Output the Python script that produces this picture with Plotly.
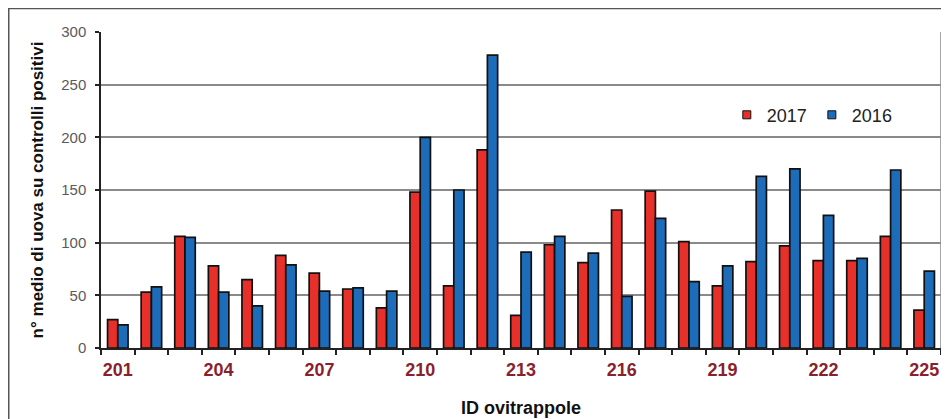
import plotly.graph_objects as go

ids = list(range(201, 226))
vals_2017 = [27, 53, 106, 78, 65, 88, 71, 56, 38, 148, 59, 188, 31, 98, 81,
             131, 149, 101, 59, 82, 97, 83, 83, 106, 36]
vals_2016 = [22, 58, 105, 53, 40, 79, 54, 57, 54, 200, 150, 278, 91, 106, 90,
             49, 123, 63, 78, 163, 170, 126, 85, 169, 73]
x_tick_vals = [201, 204, 207, 210, 213, 216, 219, 222, 225]
x_tick_text = [str(v) for v in x_tick_vals]
y_tick_vals = [0, 50, 100, 150, 200, 250, 300]

RED = "#E8302A"
BLUE = "#1C6CBA"

fig = go.Figure()
fig.add_trace(go.Bar(x=ids, y=vals_2017, name="2017", marker=dict(color=RED, line=dict(color="#111", width=1.7)), showlegend=False))
fig.add_trace(go.Bar(x=ids, y=vals_2016, name="2016", marker=dict(color=BLUE, line=dict(color="#111", width=1.7)), showlegend=False))
# legend entries
fig.add_trace(go.Scatter(x=[None], y=[None], mode="markers", name="2017",
                         marker=dict(symbol="square", size=8, color=RED, line=dict(color="#111", width=1))))
fig.add_trace(go.Scatter(x=[None], y=[None], mode="markers", name="2016",
                         marker=dict(symbol="square", size=8, color=BLUE, line=dict(color="#111", width=1))))

fig.update_layout(
    width=949, height=419,
    margin=dict(l=93, r=16, t=24, b=79),
    paper_bgcolor="white", plot_bgcolor="white",
    barmode="group", bargap=0.39, bargroupgap=0,
    font=dict(family="Liberation Sans, Arial, sans-serif", color="#222"),
    legend=dict(orientation="h", x=0.745, xanchor="left", y=0.737, yanchor="middle",
                bgcolor="rgba(0,0,0,0)", font=dict(size=18, color="#222"),
                itemsizing="trace"),
    xaxis=dict(
        range=[200.5, 225.5], tickmode="array", tickvals=x_tick_vals, ticktext=x_tick_text,
        ticks="", showgrid=False, zeroline=False,
        showline=True, linecolor="#222", linewidth=1.5,
        tickfont=dict(size=18, color="#8B1F2D", weight="bold"),
        ticklabelstandoff=5,
        minor=dict(tickmode="linear", tick0=200.5, dtick=1, ticks="outside", ticklen=5,
                   tickcolor="#222", tickwidth=1.5, showgrid=False),
        title=dict(text="ID ovitrappole", font=dict(size=18, color="#111", weight="bold"), standoff=22),
    ),
    yaxis=dict(
        range=[0, 300], tickmode="array", tickvals=y_tick_vals,
        ticks="outside", ticklen=4, tickcolor="#222", tickwidth=1.5,
        showgrid=True, gridcolor="#8a8a8a", gridwidth=1.5, zeroline=False,
        showline=True, linecolor="#222", linewidth=1.5,
        tickfont=dict(size=15, color="#5a5a5a"),
        ticklabelstandoff=6,
        title=dict(text="n° medio di uova su controlli positivi", font=dict(size=17, color="#111", weight="bold"), standoff=13),
    ),
    shapes=[
        dict(type="line", xref="paper", yref="paper", x0=1, x1=1, y0=0, y1=1,
             line=dict(color="#8a8a8a", width=1.5)),
        dict(type="rect", xref="paper", yref="paper", x0=-0.1098, x1=1.05, y0=-0.4, y1=1.074,
             line=dict(color="#555", width=1.5), fillcolor="rgba(0,0,0,0)", layer="below"),
    ],
)

fig.write_html("out.html")
